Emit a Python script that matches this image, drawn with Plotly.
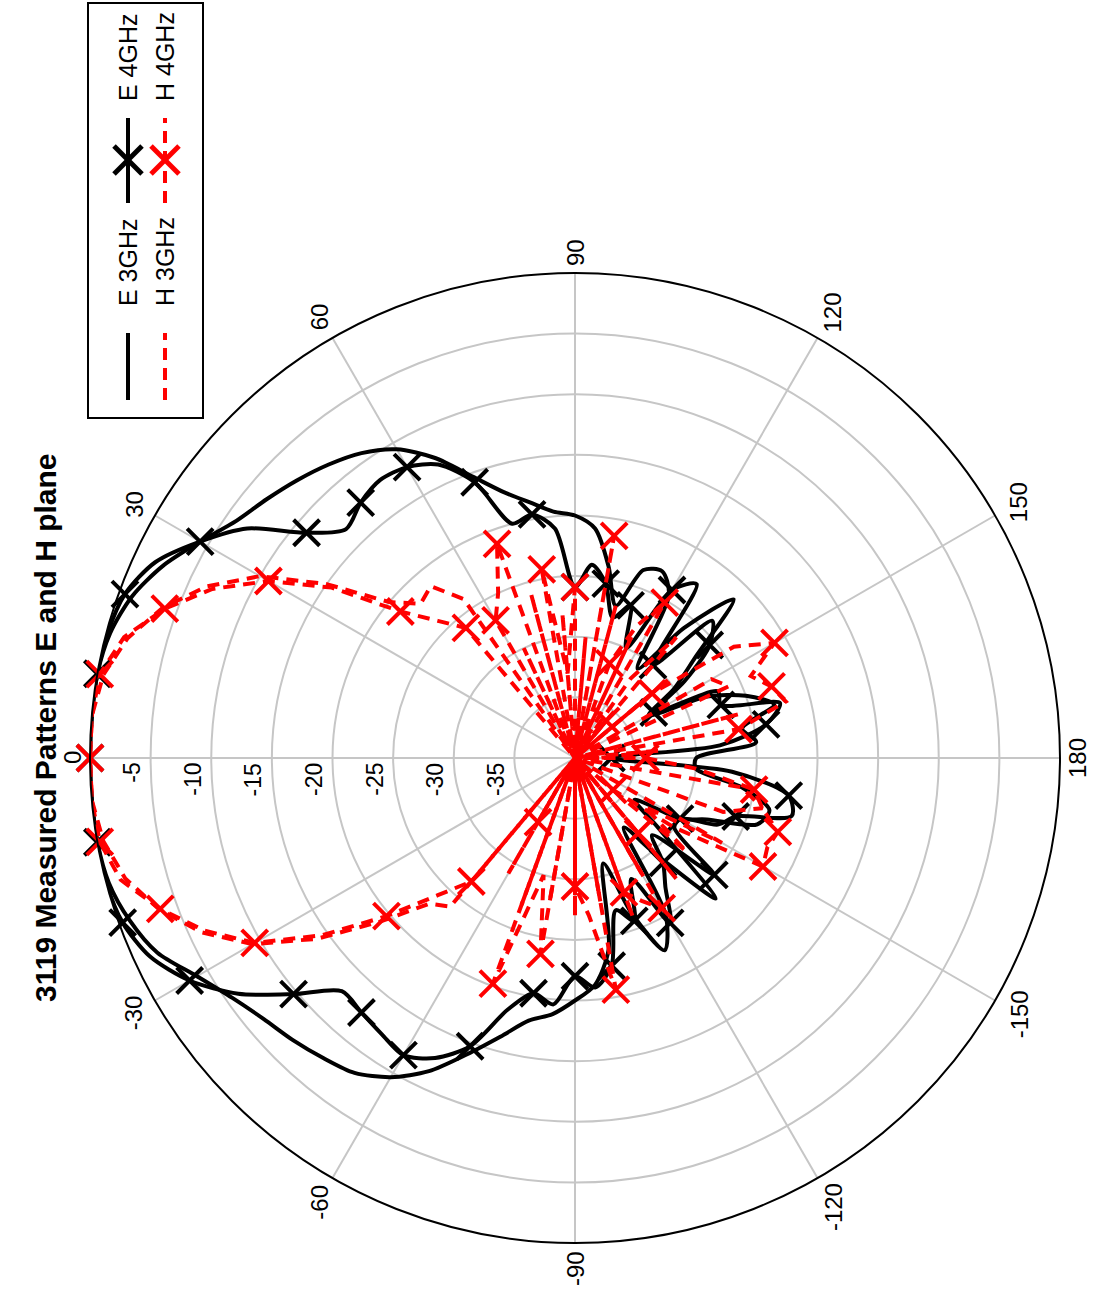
import plotly.graph_objects as go
import math

W, H = 1103, 1293

# ---------------- data (dB vs angle) ----------------
theta = [-180, -175, -170, -165, -160, -155, -150, -145, -140, -135, -130, -125,
         -120, -115, -110, -105, -100, -95, -90, -85, -80, -75, -70, -65,
         -60, -55, -50, -45, -40, -35, -30, -25, -20, -15, -10, -5,
         0, 5, 10, 15, 20, 25, 30, 35, 40, 45, 50, 55,
         60, 65, 70, 75, 80, 85, 90, 95, 100, 105, 110, 115,
         120, 125, 130, 135, 140, 145, 150, 155, 160, 165, 170, 175, 180]

e_3ghz = [-30, -30, -26, -23.4, -24, -28, -30, -34, -31, -23.6, -29.6, -33,
          -25, -22.5, -26.4, -31, -24, -21.2, -20.0, -18.8, -18.0, -16.2, -14.0, -11.5,
          -9.6, -8.3, -7.7, -7.1, -6.5, -5.5, -4.0, -2.0, -0.9, -0.2, 0, 0,
          0, 0, 0, -0.3, -1.1, -2.5, -4.3, -5.9, -6.8, -7.6, -8.4, -9.3,
          -10.6, -12.7, -15.3, -17.3, -18.6, -19.6, -20.0, -21.0, -24.0, -27, -23.5, -23.0,
          -24.5, -31, -26, -21.5, -27, -30, -33, -28, -25, -23, -26, -25, -30]

e_4ghz = [-37, -27, -22.1, -21.5, -25.9, -27, -30, -30, -25, -31, -28.7, -27,
          -24.3, -29, -25.7, -27, -22.6, -21, -22.0, -19.6, -20.3, -18.5, -14.7, -12.7,
          -11.7, -12.2, -12.6, -12.8, -9.7, -6.1, -3.3, -1.3, -0.3, 0, 0, 0,
          0, 0, 0, -0.1, -0.5, -1.8, -4.3, -7.0, -11.1, -13.3, -12.5, -12.0,
          -12.3, -13.3, -15.8, -20.0, -19.6, -21.0, -25.9, -24.0, -25.4, -28, -26.6, -30,
          -24, -22.5, -30, -24, -25.5, -29, -32.5, -27, -27.2, -22.5, -24, -28, -37]

h_3ghz = [-38, -40, -26, -24, -27, -40, -26, -33, -28, -40, -27, -40,
          -29, -40, -26, -40, -28, -40, -27, -40, -28, -40, -27, -40,
          -29, -40, -24, -23, -19, -14, -9.3, -6.0, -3.5, -1.6, -0.5, 0,
          0, 0, -0.5, -1.8, -3.8, -6.5, -10.0, -15, -20, -22, -21.5, -24,
          -40, -30, -40, -26, -40, -28, -40, -30, -40, -27, -40, -29,
          -40, -32, -27, -40, -30, -40, -27, -26, -40, -26, -40, -33, -38]

h_4ghz = [-34.2, -30, -25.0, -24, -22.2, -22.5, -22.1, -30, -35.9, -40, -31.9, -40,
          -25.7, -27, -28.2, -40, -20.6, -27, -29.4, -40, -23.6, -30, -20.2, -40,
          -33.9, -40, -26.7, -24, -19.7, -14.5, -9.5, -6.3, -3.6, -1.2, -0.2, 0,
          0, 0, -0.2, -1.5, -4.0, -7.0, -10.8, -15.5, -21.2, -24, -26.0, -40,
          -26.9, -25, -21.2, -40, -24.2, -33, -25.9, -40, -21.4, -40, -31.7, -28,
          -25.2, -40, -36, -40, -31.7, -24, -21.0, -24, -22.75, -22, -26.3, -40, -34.2]

radial_ticks = [-35, -30, -25, -20, -15, -10, -5]
angle_ticks = [0, 30, 60, 90, 120, 150, 180, -150, -120, -90, -60, -30]
series_names = ["E 3GHz", "H 3GHz", "E 4GHz", "H 4GHz"]
title_text = "3119 Measured Patterns E and H plane"

# ---------------- geometry helpers (layout only) ----------------
CX, CY, R = 575, 758, 485
RMIN, RMAX = -40, 0


def px(x):
    return x / W


def py(y):
    return 1 - y / H


BLACK = "#000000"
RED = "#ff0000"
DASH = "12px,8px"
FONT = "Liberation Sans, Arial, sans-serif"

fig = go.Figure()

fig.add_trace(go.Scatterpolar(r=e_3ghz, theta=theta, mode="lines", name=series_names[0],
                              line=dict(color=BLACK, width=4, shape="spline", smoothing=0.8),
                              showlegend=False))
fig.add_trace(go.Scatterpolar(r=e_4ghz, theta=theta, mode="lines", name=series_names[2],
                              line=dict(color=BLACK, width=4, shape="spline", smoothing=0.8),
                              showlegend=False))
e4_mk = [(t, v) for t, v in zip(theta, e_4ghz) if t % 10 == 0 and t != -180]
fig.add_trace(go.Scatterpolar(r=[v for _, v in e4_mk], theta=[t for t, _ in e4_mk], mode="markers",
                              marker=dict(symbol="x-thin", size=26, color=BLACK,
                                          line=dict(color=BLACK, width=4)),
                              showlegend=False))
fig.add_trace(go.Scatterpolar(r=h_3ghz, theta=theta, mode="lines", name=series_names[1],
                              line=dict(color=RED, width=4, dash=DASH),
                              showlegend=False))
fig.add_trace(go.Scatterpolar(r=h_4ghz, theta=theta, mode="lines", name=series_names[3],
                              line=dict(color=RED, width=4, dash=DASH),
                              showlegend=False))
h4_mk = [(t, v) for t, v in zip(theta, h_4ghz) if t % 10 == 0 and t != -180]
fig.add_trace(go.Scatterpolar(r=[v for _, v in h4_mk], theta=[t for t, _ in h4_mk], mode="markers",
                              marker=dict(symbol="x-thin", size=26, color=RED,
                                          line=dict(color=RED, width=4)),
                              showlegend=False))

annotations = []
# angular tick labels (rotated text, placed outside the circle)
for a in angle_ticks:
    txt = str(a)
    L = sum(8 if ch == "-" else 13 for ch in txt)
    ux = -math.cos(math.radians(a))
    uy = -math.sin(math.radians(a))
    dist = R + 8 + abs(ux) * 10 + abs(uy) * L / 2
    annotations.append(dict(x=px(CX + ux * dist), y=py(CY + uy * dist), xref="paper", yref="paper",
                            text=txt, showarrow=False, textangle=-90,
                            xanchor="center", yanchor="middle",
                            font=dict(family=FONT, size=24, color="black")))
# radial tick labels along the 0 degree spoke
for v in radial_ticks:
    d = (v - RMIN) / (RMAX - RMIN) * R
    annotations.append(dict(x=px(CX - d - 4), y=py(CY + 3), xref="paper", yref="paper",
                            text=str(v), showarrow=False, textangle=-90,
                            xanchor="right", yanchor="top",
                            font=dict(family=FONT, size=23, color="black")))
# title
annotations.append(dict(x=px(45), y=py(728), xref="paper", yref="paper", text="<b>" + title_text + "</b>",
                        showarrow=False, textangle=-90, xanchor="center", yanchor="middle",
                        font=dict(family=FONT, size=30, color="black")))

# legend (drawn rotated like the reference)
shapes = [dict(type="rect", xref="paper", yref="paper", x0=px(88), x1=px(203), y0=py(418), y1=py(3),
               line=dict(color="black", width=2), fillcolor="white", layer="above")]
leg_cols = [(128, BLACK, "solid"), (165, RED, DASH)]
for i, (lx, col, dash) in enumerate(leg_cols):
    shapes.append(dict(type="line", xref="paper", yref="paper", x0=px(lx), x1=px(lx),
                       y0=py(400), y1=py(333), line=dict(color=col, width=4, dash=dash), layer="above"))
    shapes.append(dict(type="line", xref="paper", yref="paper", x0=px(lx), x1=px(lx),
                       y0=py(203), y1=py(118), line=dict(color=col, width=4, dash=dash), layer="above"))
    for sx in (-1, 1):
        shapes.append(dict(type="line", xref="paper", yref="paper", x0=px(lx - 14), x1=px(lx + 14),
                           y0=py(160 - 14 * sx), y1=py(160 + 14 * sx),
                           line=dict(color=col, width=5), layer="above"))
    annotations.append(dict(x=px(lx), y=py(262), xref="paper", yref="paper", text=series_names[i],
                            showarrow=False, textangle=-90, xanchor="center", yanchor="middle",
                            font=dict(family=FONT, size=25, color="black")))
    annotations.append(dict(x=px(lx), y=py(57), xref="paper", yref="paper", text=series_names[i + 2],
                            showarrow=False, textangle=-90, xanchor="center", yanchor="middle",
                            font=dict(family=FONT, size=25, color="black")))

fig.update_layout(
    width=W, height=H,
    margin=dict(l=0, r=0, t=0, b=0),
    paper_bgcolor="white",
    plot_bgcolor="white",
    showlegend=False,
    polar=dict(
        domain=dict(x=[px(CX - R), px(CX + R)], y=[py(CY + R), py(CY - R)]),
        bgcolor="white",
        radialaxis=dict(range=[RMIN, RMAX], tickmode="array", tickvals=radial_ticks + [0],
                        showticklabels=False, ticks="", showline=False,
                        gridcolor="#c6c6c6", gridwidth=1.5),
        angularaxis=dict(rotation=180, direction="clockwise", tickmode="array",
                         tickvals=[0, 30, 60, 90, 120, 150, 180, 210, 240, 270, 300, 330],
                         showticklabels=False, ticks="", gridcolor="#c6c6c6", gridwidth=1.5,
                         showline=True, linecolor="black", linewidth=2),
    ),
    annotations=annotations,
    shapes=shapes,
)

fig.write_html("out.html", config={"displayModeBar": False},
               post_script="document.body.style.margin='0px';document.body.style.overflow='hidden';")
